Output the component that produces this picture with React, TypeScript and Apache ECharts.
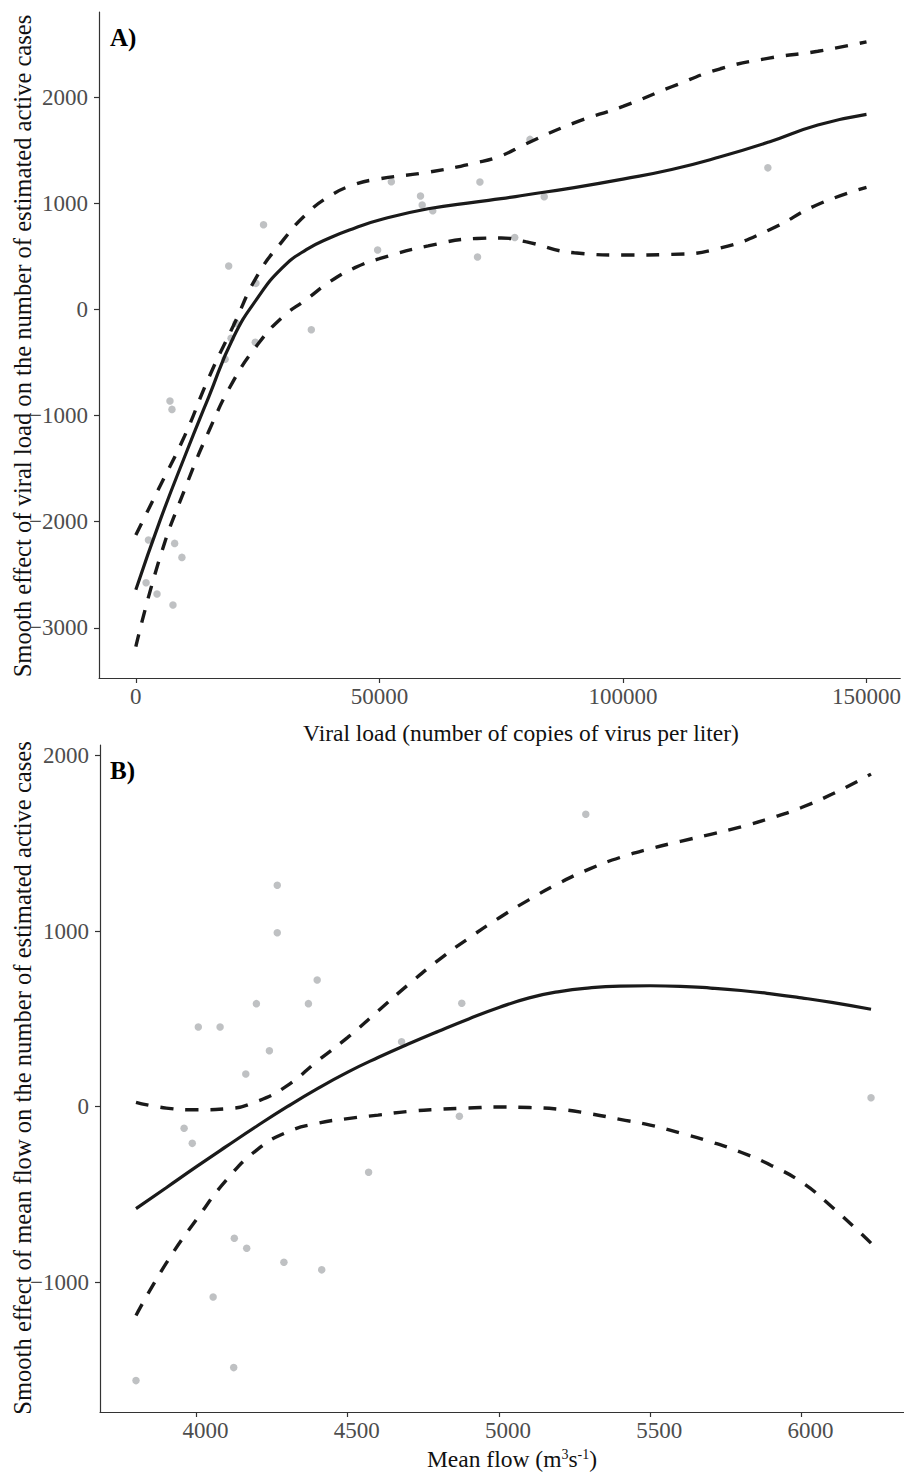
import React, { useEffect, useRef } from "react";
import * as echarts from "echarts";

// ---------- Panel A: viral load ----------
const A_POINT_X = [20576, 19554, 24520, 36024, 18328, 7008, 7417, 2595, 7969, 9460, 2105, 4352, 7622, 19064, 26216, 24663, 52452, 49642, 58440, 58787, 60958, 70637, 70147, 80915, 83837, 77785, 129751];
const A_POINT_Y = [-130, -271, -309, -190, -469, -862, -941, -2172, -2204, -2336, -2575, -2681, -2785, 410, 799, 247, 1205, 561, 1070, 985, 931, 1202, 495, 1604, 1063, 680, 1336];

const A_CURVE_X = [0, 5000, 10000, 15000, 20000, 25000, 30000, 35000, 40000, 45000, 50000, 60000, 70000, 75000, 80000, 90000, 100000, 110000, 120000, 130000, 140000, 150000];
const A_FIT = [-2642, -1985, -1390, -820, -265, 110, 390, 565, 680, 770, 845, 950, 1015, 1045, 1080, 1150, 1230, 1320, 1440, 1580, 1740, 1840];
const A_UPPER = [-2125, -1660, -1193, -640, -155, 325, 640, 900, 1075, 1180, 1232, 1295, 1385, 1450, 1560, 1760, 1915, 2100, 2270, 2370, 2435, 2524];
const A_LOWER = [-3178, -2330, -1700, -1145, -675, -330, -75, 95, 268, 395, 480, 600, 670, 675, 640, 535, 514, 520, 580, 750, 990, 1152];

const A_X_TICKS = [0, 50000, 100000, 150000];
const A_Y_TICKS = [-3000, -2000, -1000, 0, 1000, 2000];

// ---------- Panel B: mean flow ----------
const B_POINT_X = [4267, 4267, 4399, 4198, 4370, 4006, 4078, 4241, 4163, 4678, 3959, 3986, 4569, 4869, 4125, 4166, 4289, 4414, 4055, 4123, 3800, 5287, 4877, 6230];
const B_POINT_Y = [1262, 991, 722, 587, 587, 454, 454, 319, 186, 370, -123, -209, -374, -55, -750, -807, -887, -930, -1085, -1487, -1561, 1666, 589, 51];

const B_CURVE_X = [3800, 3900, 4000, 4100, 4200, 4300, 4400, 4500, 4600, 4700, 4800, 4900, 5000, 5100, 5200, 5300, 5400, 5500, 5600, 5700, 5800, 5900, 6000, 6100, 6230];
const B_FIT = [-581, -462, -342, -225, -110, 0, 103, 197, 280, 357, 430, 500, 565, 620, 656, 677, 687, 689, 686, 676, 662, 643, 620, 594, 555];
const B_UPPER = [25, -8, -18, -12, 30, 120, 260, 395, 545, 695, 835, 960, 1075, 1180, 1275, 1355, 1420, 1470, 1512, 1552, 1595, 1645, 1705, 1780, 1895];
const B_LOWER = [-1190, -892, -643, -416, -246, -145, -95, -68, -48, -27, -15, -8, -2, -5, -15, -40, -72, -105, -150, -200, -260, -335, -430, -570, -778];

const B_X_TICKS = [4000, 4500, 5000, 5500, 6000];
const B_Y_TICKS = [-1000, 0, 1000, 2000];

const SERIF = "'Liberation Serif', 'Times New Roman', serif";
const AXIS_COLOR = "#333333";
const LABEL_COLOR = "#4d4d4d";
const LINE_COLOR = "#1a1a1a";
const POINT_COLOR = "#bfc1c3";

const fmt = (v: number) => (v < 0 ? "\u2212" + Math.abs(v) : String(v));

function xAxisDef(gridIndex: number, min: number, max: number, ticks: number[], labelPad: number[]) {
  return {
    type: "value",
    gridIndex,
    min,
    max,
    axisLine: { show: true, onZero: false, lineStyle: { color: AXIS_COLOR, width: 1.2 } },
    axisTick: { show: true, length: 5, customValues: ticks, lineStyle: { color: AXIS_COLOR, width: 1.2 } },
    axisLabel: {
      customValues: ticks,
      color: LABEL_COLOR,
      fontSize: 23,
      fontFamily: SERIF,
      margin: 7,
      padding: labelPad,
      formatter: fmt,
    },
    splitLine: { show: false },
  };
}

function yAxisDef(gridIndex: number, min: number, max: number, ticks: number[]) {
  return {
    type: "value",
    gridIndex,
    min,
    max,
    axisLine: { show: true, onZero: false, lineStyle: { color: AXIS_COLOR, width: 1.2 } },
    axisTick: { show: true, length: 5, customValues: ticks, lineStyle: { color: AXIS_COLOR, width: 1.2 } },
    axisLabel: {
      customValues: ticks,
      color: LABEL_COLOR,
      fontSize: 23,
      fontFamily: SERIF,
      margin: 11,
      formatter: fmt,
    },
    splitLine: { show: false },
  };
}

function pairs(xs: number[], ys: number[]) {
  return xs.map((x, i) => [x, ys[i]]);
}

function lineSeries(idx: number, xs: number[], ys: number[], dashed: boolean) {
  return {
    type: "line",
    xAxisIndex: idx,
    yAxisIndex: idx,
    data: pairs(xs, ys),
    symbol: "none",
    showSymbol: false,
    smooth: 0.5,
    z: 3,
    lineStyle: {
      color: LINE_COLOR,
      width: dashed ? 3.4 : 3.2,
      type: dashed ? [13, 12] : "solid",
      cap: "butt",
    },
  };
}

function scatterSeries(idx: number, xs: number[], ys: number[]) {
  return {
    type: "scatter",
    xAxisIndex: idx,
    yAxisIndex: idx,
    data: pairs(xs, ys),
    symbol: "circle",
    symbolSize: 7.5,
    z: 1,
    itemStyle: { color: POINT_COLOR, opacity: 1 },
  };
}

export default function App() {
  const ref = useRef<HTMLDivElement>(null);

  useEffect(() => {
    if (!ref.current) return;
    const chart = echarts.init(ref.current, null, { renderer: "svg" });
    const titleStyle = { fontSize: 23.5, fontFamily: SERIF, fill: "#111111", align: "center", verticalAlign: "middle" };
    const yTitleStyle = { ...titleStyle, fontSize: 24.6 };
    chart.setOption({
      animation: false,
      backgroundColor: "#ffffff",
      grid: [
        { left: 99, top: 12, width: 805, height: 666 },
        { left: 100, top: 745, width: 804, height: 667 },
      ],
      xAxis: [
        xAxisDef(0, -7560, 156930, A_X_TICKS, [0, 0, 0, 0]),
        xAxisDef(1, 3681, 6339, B_X_TICKS, [0, 0, 0, 18]),
      ],
      yAxis: [
        yAxisDef(0, -3473, 2805, A_Y_TICKS),
        yAxisDef(1, -1740, 2061, B_Y_TICKS),
      ],
      series: [
        scatterSeries(0, A_POINT_X, A_POINT_Y),
        lineSeries(0, A_CURVE_X, A_FIT, false),
        lineSeries(0, A_CURVE_X, A_UPPER, true),
        lineSeries(0, A_CURVE_X, A_LOWER, true),
        scatterSeries(1, B_POINT_X, B_POINT_Y),
        lineSeries(1, B_CURVE_X, B_FIT, false),
        lineSeries(1, B_CURVE_X, B_UPPER, true),
        lineSeries(1, B_CURVE_X, B_LOWER, true),
      ],
      graphic: [
        {
          type: "text",
          x: 110,
          y: 37,
          style: { text: "A)", fontSize: 25, fontWeight: "bold", fontFamily: SERIF, fill: "#000000", verticalAlign: "middle" },
        },
        {
          type: "text",
          x: 110,
          y: 770,
          style: { text: "B)", fontSize: 25, fontWeight: "bold", fontFamily: SERIF, fill: "#000000", verticalAlign: "middle" },
        },
        {
          type: "text",
          x: 22,
          y: 346,
          rotation: Math.PI / 2,
          style: { ...yTitleStyle, text: "Smooth effect of viral load on the number of estimated active cases" },
        },
        {
          type: "text",
          x: 521,
          y: 733,
          style: { ...titleStyle, text: "Viral load (number of copies of virus per liter)" },
        },
        {
          type: "text",
          x: 22,
          y: 1078,
          rotation: Math.PI / 2,
          style: { ...yTitleStyle, text: "Smooth effect of mean flow on the number of estimated active cases" },
        },
        {
          type: "text",
          x: 512,
          y: 1459,
          style: {
            ...titleStyle,
            text: "{n|Mean flow (m}{s|3}{n|s}{s|-1}{n|)}",
            rich: {
              n: { fontSize: 23.5, fontFamily: SERIF, fill: "#111111" },
              s: { fontSize: 14, fontFamily: SERIF, fill: "#111111", verticalAlign: "top" },
            },
          },
        },
      ],
    });
    return () => chart.dispose();
  }, []);

  return (
    <div
      ref={ref}
      style={{ position: "absolute", left: 0, top: 0, width: 904, height: 1475, background: "#fff" }}
    />
  );
}
